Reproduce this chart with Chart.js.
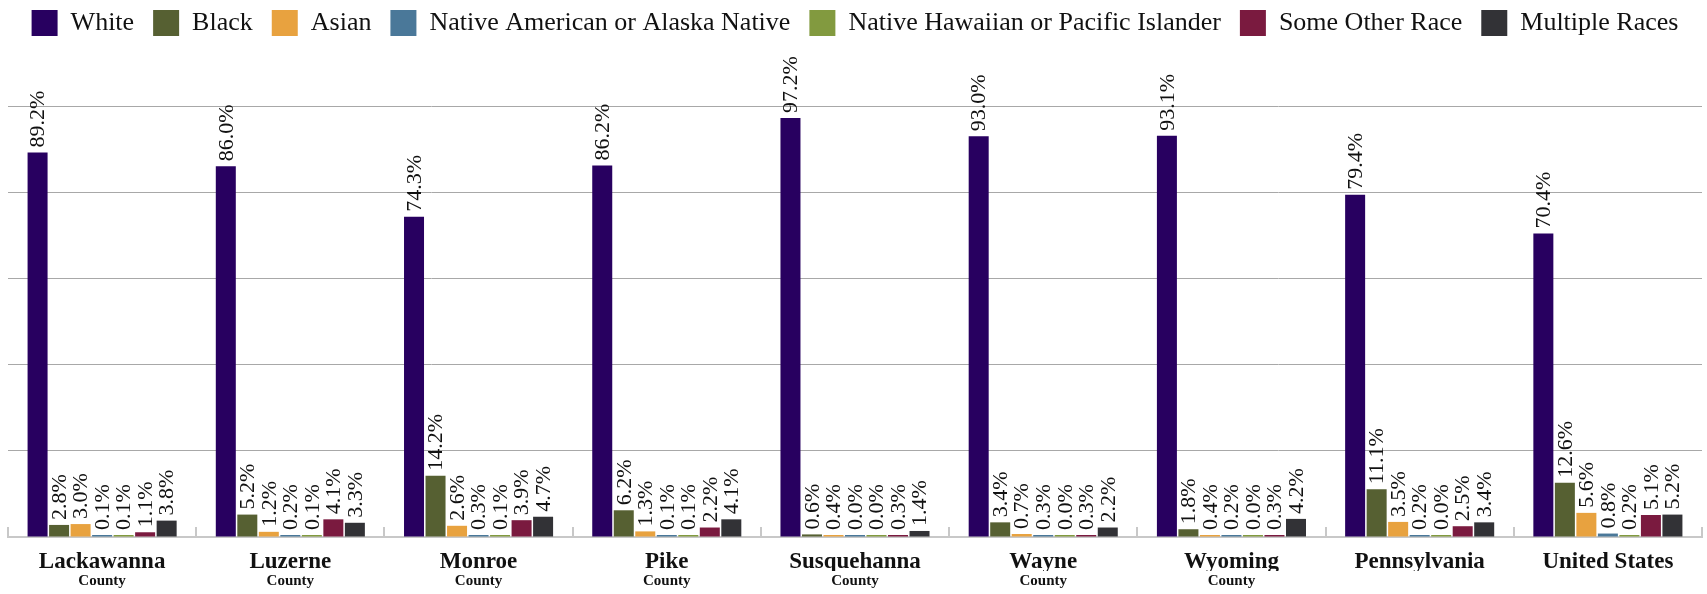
<html>

<head>
    <meta charset="utf-8">
    <style>
        html, body { margin: 0; padding: 0; background: #ffffff; }
        #wrap { width: 1707px; height: 594px; }
    </style>
</head>

<body>
    <div id="wrap">
        <!-- chart area -->
        <canvas id="chart_id"></canvas>
    </div>
    <script src="https://cdn.jsdelivr.net/npm/chart.js"></script>
    <script>
        // categories (main line + small second line)
        const places = ['Lackawanna', 'Luzerne', 'Monroe', 'Pike', 'Susquehanna', 'Wayne', 'Wyoming', 'Pennsylvania', 'United States'];
        const placeKinds = ['County', 'County', 'County', 'County', 'County', 'County', 'County', '', ''];

        // series values in percent, one array per race
        const white      = [89.2, 86.0, 74.3, 86.2, 97.2, 93.0, 93.1, 79.4, 70.4];
        const black      = [2.8, 5.2, 14.2, 6.2, 0.6, 3.4, 1.8, 11.1, 12.6];
        const asian      = [3.0, 1.2, 2.6, 1.3, 0.4, 0.7, 0.4, 3.5, 5.6];
        const nativeAm   = [0.1, 0.2, 0.3, 0.1, 0.0, 0.3, 0.2, 0.2, 0.8];
        const hawaiian   = [0.1, 0.1, 0.1, 0.1, 0.0, 0.0, 0.0, 0.0, 0.2];
        const otherRace  = [1.1, 4.1, 3.9, 2.2, 0.3, 0.3, 0.3, 2.5, 5.1];
        const multiRace  = [3.8, 3.3, 4.7, 4.1, 1.4, 2.2, 4.2, 3.4, 5.2];

        const seriesNames = ['White', 'Black', 'Asian', 'Native American or Alaska Native',
            'Native Hawaiian or Pacific Islander', 'Some Other Race', 'Multiple Races'];
        const seriesData = [white, black, asian, nativeAm, hawaiian, otherRace, multiRace];
        const seriesColors = ['#280060', '#566032', '#e8a23f', '#4a7899', '#829a3f', '#7a1a3f', '#323236'];

        Chart.defaults.font.family = "'Liberation Serif', 'DejaVu Serif', serif";
        Chart.defaults.color = '#111111';

        // extra room under the legend
        const legendSpacing = {
            id: 'legendSpacing',
            beforeInit(chart) {
                const fit = chart.legend.fit;
                chart.legend.fit = function () {
                    fit.bind(chart.legend)();
                    this.height += 60;
                };
            }
        };

        // short marks going up from the baseline between the groups
        const groupTicks = {
            id: 'groupTicks',
            beforeDatasetsDraw(chart) {
                const xs = chart.scales.x;
                const ctx = chart.ctx;
                const n = chart.data.labels.length;
                const step = (xs.right - xs.left) / n;
                const yb = chart.chartArea.bottom;
                ctx.save();
                ctx.strokeStyle = '#c8c8c8';
                ctx.lineWidth = 2;
                for (let i = 0; i <= n; i++) {
                    const x = Math.round(xs.left + i * step);
                    ctx.beginPath();
                    ctx.moveTo(x, yb);
                    ctx.lineTo(x, yb - 10);
                    ctx.stroke();
                }
                ctx.restore();
            }
        };

        // value labels, turned upright, above each bar
        const barLabels = {
            id: 'barLabels',
            afterDatasetsDraw(chart) {
                const ctx = chart.ctx;
                ctx.save();
                ctx.font = "22px 'Liberation Serif', serif";
                ctx.fillStyle = '#111111';
                ctx.textAlign = 'left';
                ctx.textBaseline = 'middle';
                chart.data.datasets.forEach((ds, di) => {
                    const meta = chart.getDatasetMeta(di);
                    meta.data.forEach((bar, i) => {
                        ctx.save();
                        ctx.translate(bar.x + 1, bar.y - 5);
                        ctx.rotate(-Math.PI / 2);
                        ctx.fillText(ds.data[i].toFixed(1) + '%', 0, 0);
                        ctx.restore();
                    });
                });
                ctx.restore();
            }
        };

        const chartCanvas = document.getElementById('chart_id');

        new Chart(chartCanvas, {
            type: 'bar',
            data: {
                labels: places,
                datasets: seriesNames.map((name, k) => ({
                    label: name,
                    data: seriesData[k],
                    backgroundColor: seriesColors[k],
                    borderWidth: 0,
                    minBarLength: 2,
                    categoryPercentage: 0.8,
                    barPercentage: 0.93
                }))
            },
            options: {
                responsive: true,
                maintainAspectRatio: false,
                animation: false,
                layout: {
                    padding: { top: -9, left: 8, right: 5, bottom: 3 }
                },
                plugins: {
                    legend: {
                        position: 'top',
                        labels: {
                            boxWidth: 26,
                            boxHeight: 26,
                            padding: 19,
                            color: '#111111',
                            font: { size: 26 }
                        }
                    },
                    tooltip: { enabled: false }
                },
                scales: {
                    x: {
                        offset: true,
                        grid: { display: false, drawTicks: false },
                        border: { display: true, color: '#c8c8c8', width: 2 },
                        ticks: {
                            padding: 11,
                            maxRotation: 0,
                            autoSkip: false,
                            color: '#111111',
                            font: { size: 23, weight: 'bold' }
                        },
                        afterFit: scale => { scale.height = 34; }
                    },
                    x2: {
                        type: 'category',
                        position: 'bottom',
                        labels: placeKinds,
                        offset: true,
                        grid: { display: false, drawTicks: false },
                        border: { display: false },
                        ticks: {
                            padding: 1,
                            maxRotation: 0,
                            autoSkip: false,
                            color: '#111111',
                            font: { size: 15, weight: 'bold' }
                        },
                        afterFit: scale => { scale.height = 20; }
                    },
                    y: {
                        min: 0,
                        max: 100,
                        ticks: { display: false, stepSize: 20 },
                        border: { display: false },
                        grid: {
                            drawTicks: false,
                            lineWidth: 1,
                            color: ctx => ctx.tick && ctx.tick.value === 0 ? 'rgba(0,0,0,0)' : '#a8a8a8'
                        }
                    }
                }
            },
            plugins: [legendSpacing, groupTicks, barLabels]
        });
    </script>
</body>

</html>
